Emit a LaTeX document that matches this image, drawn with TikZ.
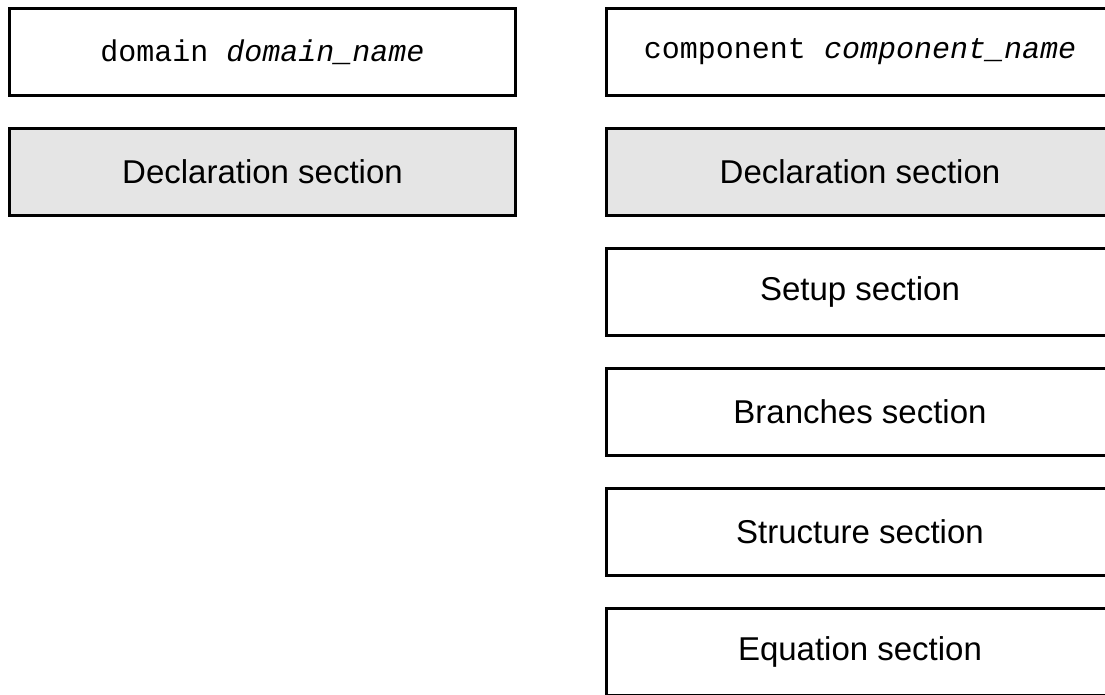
\documentclass[tikz,border=0pt]{standalone}
\usepackage{fontspec}
\setmainfont{Liberation Sans}
\setmonofont{Liberation Mono}
\usetikzlibrary{positioning}

\begin{document}
\begin{tikzpicture}[x=1pt, y=1pt, node distance=29.5pt,
    header/.style={rectangle, draw, line width=3pt, minimum width=506.5pt, minimum height=87.5pt, font=\fontsize{30}{36}\selectfont\ttfamily},
    sectionbox/.style={rectangle, draw, line width=3pt, minimum width=506.5pt, minimum height=87.5pt, font=\fontsize{33}{40}\selectfont},
    declbox/.style={sectionbox, fill=gray!20}]

    \clip (0,0) rectangle (1105,-694);

    % Left column - domain file
    \node [header] (domain) at (262.5,-52) {domain \textit{domain\_name}};
    \node [declbox, below=of domain] (domdecl) {Declaration section};

    % Right column - component file
    \node [header, right=88pt of domain] (component) {component \textit{component\_name}};
    \node [declbox, below=of component] (compdecl) {Declaration section};
    \node [sectionbox, below=of compdecl] (setup) {Setup section};
    \node [sectionbox, below=of setup] (branches) {Branches section};
    \node [sectionbox, below=of branches] (structure) {Structure section};
    \node [sectionbox, below=of structure] (equation) {Equation section};
\end{tikzpicture}
\end{document}
